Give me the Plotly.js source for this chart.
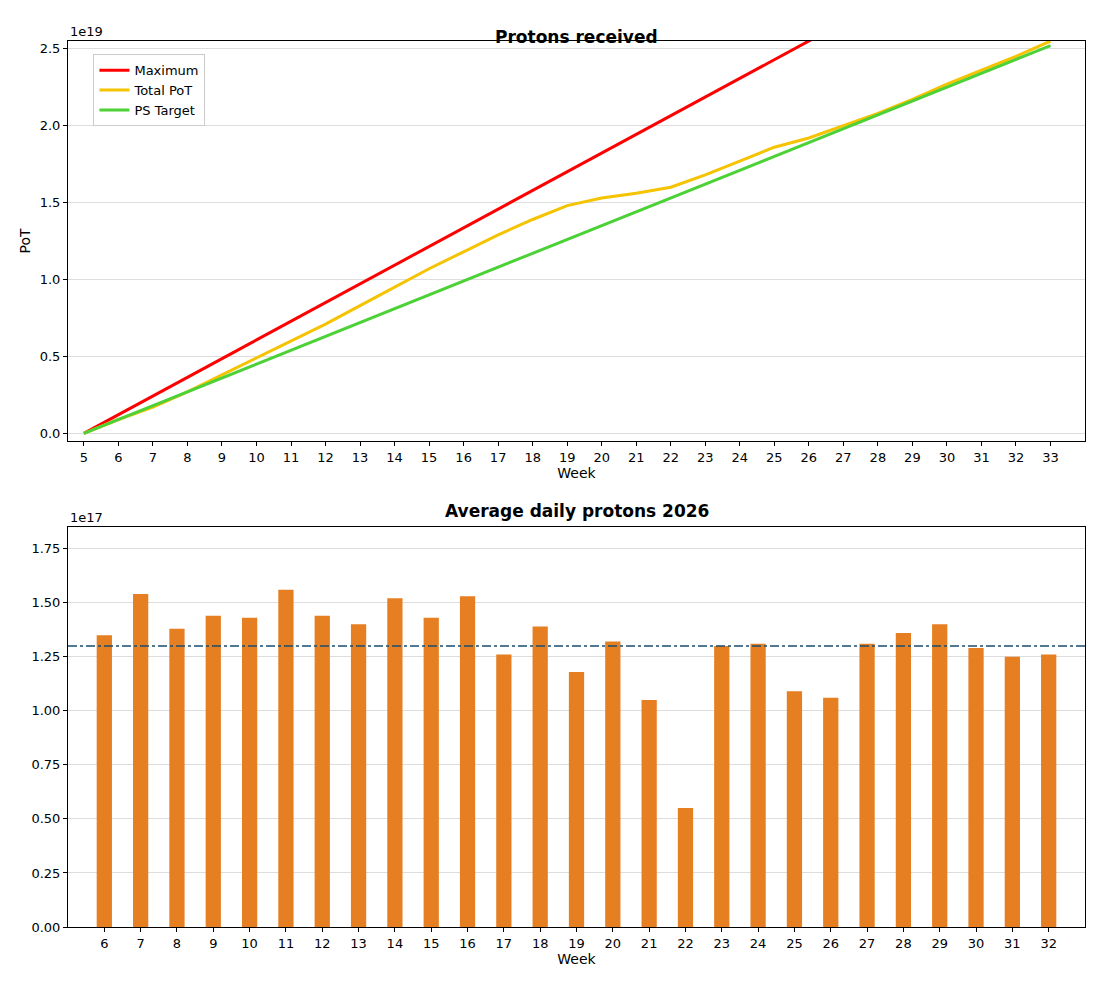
<!DOCTYPE html>
<html><head><meta charset="utf-8">
<script src="https://cdn.plot.ly/plotly-3.0.1.min.js"></script>
<style>body{margin:0}</style></head><body>
<div id="c" style="width:1100px;height:986px"></div>
<script>
const weeksCum=[5,6,7,8,9,10,11,12,13,14,15,16,17,18,19,20,21,22,23,24,25,26,27,28,29,30,31,32,33];
const totalPoT=[0,0.09,0.17,0.27,0.38,0.49,0.60,0.71,0.83,0.95,1.07,1.18,1.29,1.39,1.48,1.53,1.56,1.60,1.68,1.77,1.86,1.92,2.00,2.08,2.17,2.27,2.36,2.45,2.55];
const maxWeeks=[5,33];
const maximum=[0,3.40];
const targetWeeks=[5,33];
const psTarget=[0,2.52];
const barWeeks=[6,7,8,9,10,11,12,13,14,15,16,17,18,19,20,21,22,23,24,25,26,27,28,29,30,31,32];
const daily=[1.35,1.54,1.38,1.44,1.43,1.56,1.44,1.40,1.52,1.43,1.53,1.26,1.39,1.18,1.32,1.05,0.55,1.30,1.31,1.09,1.06,1.31,1.36,1.40,1.29,1.25,1.26];
const avgLine=1.30;
const F={family:"DejaVu Sans",size:13,color:"#000"};
const traces=[
{x:maxWeeks,y:maximum,mode:'lines',name:'Maximum',line:{color:'#ff0000',width:3},xaxis:'x',yaxis:'y'},
{x:weeksCum,y:totalPoT,mode:'lines',name:'Total PoT',line:{color:'#f5c300',width:3},xaxis:'x',yaxis:'y'},
{x:targetWeeks,y:psTarget,mode:'lines',name:'PS Target',line:{color:'#4cd137',width:3},xaxis:'x',yaxis:'y'},
{x:barWeeks,y:daily,type:'bar',width:0.42,marker:{color:'#e67e22'},showlegend:false,xaxis:'x2',yaxis:'y2'},
{x:[5,33],y:[avgLine,avgLine],mode:'lines',line:{color:'#1a4e6e',width:1.5,dash:'dashdot'},showlegend:false,xaxis:'x2',yaxis:'y2'}
];
const ax={showline:true,mirror:true,linecolor:'#000',ticks:'outside',ticklen:4,tickcolor:'#000',tickfont:F,zeroline:false};
const layout={width:1100,height:986,margin:{l:68,r:15,t:0,b:0},paper_bgcolor:'#fff',plot_bgcolor:'#fff',font:F,
xaxis:Object.assign({},ax,{domain:[0,1],range:[4.54,34],tickmode:'array',tickvals:weeksCum,showgrid:false,anchor:'y',title:{text:'Week',font:{size:14},standoff:4}}),
yaxis:Object.assign({},ax,{domain:[0.5527,0.9584],range:[-0.05,2.55],tickvals:[0,0.5,1,1.5,2,2.5],tickformat:'.1f',showgrid:true,gridcolor:'#ddd',title:{text:'PoT',font:{size:14}}}),
xaxis2:Object.assign({},ax,{domain:[0,1],range:[5,33],tickmode:'array',tickvals:barWeeks,showgrid:false,anchor:'y2',title:{text:'Week',font:{size:14},standoff:4}}),
yaxis2:Object.assign({},ax,{domain:[0.0598,0.4655],range:[0,1.85],tickvals:[0,0.25,0.5,0.75,1,1.25,1.5,1.75],tickformat:'.2f',showgrid:true,gridcolor:'#ddd'}),
legend:{x:0.025,y:0.945,xanchor:'left',yanchor:'top',bgcolor:'#fff',bordercolor:'#ccc',borderwidth:1,font:{size:13}},
annotations:[
{text:'<b>Protons received</b>',xref:'paper',yref:'paper',x:0.5,y:0.975,showarrow:false,font:{size:17}},
{text:'<b>Average daily protons 2026</b>',xref:'paper',yref:'paper',x:0.5,y:0.482,showarrow:false,font:{size:17}},
{text:'1e19',xref:'paper',yref:'paper',x:0,y:0.9584,xanchor:'left',yanchor:'bottom',showarrow:false,font:F},
{text:'1e17',xref:'paper',yref:'paper',x:0,y:0.4655,xanchor:'left',yanchor:'bottom',showarrow:false,font:F}
]};
Plotly.newPlot('c',traces,layout,{displayModeBar:false});
</script></body></html>
